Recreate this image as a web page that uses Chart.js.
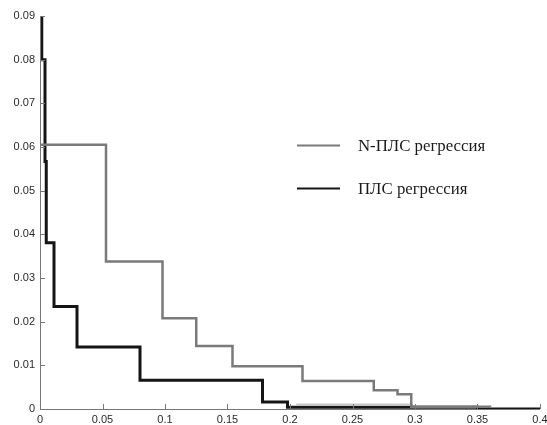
<!DOCTYPE html>
<html>
<head>
<meta charset="utf-8">
<script src="https://cdn.jsdelivr.net/npm/chart.js@4.4.1/dist/chart.umd.min.js"></script>
<style>
html,body{margin:0;padding:0;background:#fff;}
#wrap{width:547px;height:425px;position:relative;}
</style>
</head>
<body>
<div id="wrap"><canvas id="c" width="547" height="425"></canvas></div>
<script>
// ---- data ----
const seriesLabels = ['N-ПЛС регрессия', 'ПЛС регрессия'];
const nplsX = [0, 0.0528, 0.098, 0.125, 0.154, 0.21, 0.267, 0.286, 0.297, 0.36];
const nplsY = [0.0605, 0.0338, 0.0208, 0.0144, 0.0098, 0.0064, 0.0043, 0.0034, 0.0005, 0.0003];
const plsX = [0, 0.0014, 0.004, 0.005, 0.0112, 0.0296, 0.08, 0.178, 0.198, 0.35, 0.4];
const plsY = [0.09, 0.08, 0.0567, 0.0381, 0.0235, 0.0142, 0.0066, 0.0016, 0.0004, 0, 0];
const tailX = [0.205, 0.286, 0.298];
const tailY = [0.0011, 0.0011, 0.0003];
const xTicks = [0, 0.05, 0.1, 0.15, 0.2, 0.25, 0.3, 0.35, 0.4];
const xTickLabels = ['0', '0.05', '0.1', '0.15', '0.2', '0.25', '0.3', '0.35', '0.4'];
const yTicks = [0, 0.01, 0.02, 0.03, 0.04, 0.05, 0.06, 0.07, 0.08, 0.09];
const yTickLabels = ['0', '0.01', '0.02', '0.03', '0.04', '0.05', '0.06', '0.07', '0.08', '0.09'];

// each value holds from its x up to the next x
const toSteps = (xs, ys) => {
  const pts = [];
  xs.forEach((x, i) => {
    pts.push({x: x, y: ys[i]});
    if (i + 1 < xs.length) pts.push({x: xs[i + 1], y: ys[i]});
  });
  return pts;
};

const inwardTicks = {
  id: 'inwardTicks',
  afterDatasetsDraw(chart) {
    const ctx = chart.ctx;
    const xs = chart.scales.x, ys = chart.scales.y;
    ctx.save();
    ctx.strokeStyle = '#777';
    ctx.lineWidth = 1;
    ctx.beginPath();
    ctx.moveTo(xs.left + 0.5, ys.top);
    ctx.lineTo(xs.left + 0.5, ys.bottom + 0.5);
    ctx.lineTo(xs.right, ys.bottom + 0.5);
    xTicks.forEach(v => {
      const px = Math.round(xs.getPixelForValue(v)) + 0.5;
      ctx.moveTo(px, ys.bottom);
      ctx.lineTo(px, ys.bottom - 5);
    });
    yTicks.forEach(v => {
      const py = Math.round(ys.getPixelForValue(v)) + 0.5;
      ctx.moveTo(xs.left, py);
      ctx.lineTo(xs.left + 5, py);
    });
    ctx.stroke();
    ctx.restore();
  }
};

const customLegend = {
  id: 'customLegend',
  afterDraw(chart, args, opts) {
    const ctx = chart.ctx;
    ctx.save();
    ctx.font = opts.font;
    ctx.textBaseline = 'alphabetic';
    opts.items.forEach((it) => {
      const ds = chart.data.datasets[it.dataset];
      ctx.strokeStyle = ds.borderColor;
      ctx.lineWidth = 2;
      ctx.beginPath();
      ctx.moveTo(opts.lineX0, it.y);
      ctx.lineTo(opts.lineX1, it.y);
      ctx.stroke();
      ctx.fillStyle = '#1a1a1a';
      ctx.fillText(ds.label, opts.textX, it.y + 5);
    });
    ctx.restore();
  }
};

new Chart(document.getElementById('c'), {
  type: 'line',
  data: {
    datasets: [
      {label: seriesLabels[0], data: toSteps(nplsX, nplsY), borderColor: '#7a7a7a', borderWidth: 2.5, pointRadius: 0, fill: false, tension: 0},
      {label: seriesLabels[1], data: toSteps(plsX, plsY), borderColor: '#151515', borderWidth: 3, pointRadius: 0, fill: false, tension: 0},
      {label: '', data: toSteps(tailX, tailY), borderColor: '#aaaaaa', borderWidth: 1, pointRadius: 0, fill: false, tension: 0}
    ]
  },
  options: {
    responsive: false,
    animation: false,
    layout: {padding: {left: 0, right: 7, top: 16, bottom: 0}},
    plugins: {
      legend: {display: false},
      tooltip: {enabled: false},
      customLegend: {
        font: '16.8px "Liberation Serif"',
        lineX0: 297, lineX1: 340, textX: 358,
        items: [{dataset: 0, y: 145.5}, {dataset: 1, y: 188.5}]
      }
    },
    scales: {
      x: {
        type: 'linear', min: 0, max: 0.4,
        afterBuildTicks: s => { s.ticks = xTicks.map(v => ({value: v})); },
        afterFit: s => { s.height = 16; s.paddingLeft = 0; s.paddingRight = 0; },
        ticks: {
          callback: (v) => xTickLabels[xTicks.indexOf(v)] ?? '',
          color: '#2a2a2a', font: {family: '"Liberation Sans", Arial', size: 11}, padding: 4, maxRotation: 0
        },
        grid: {display: false, drawTicks: false},
        border: {display: false}
      },
      y: {
        type: 'linear', min: 0, max: 0.09,
        afterBuildTicks: s => { s.ticks = yTicks.map(v => ({value: v})); },
        afterFit: s => { s.width = 40; s.paddingTop = 0; s.paddingBottom = 0; },
        ticks: {
          callback: (v) => yTickLabels[yTicks.indexOf(v)] ?? '',
          color: '#2a2a2a', font: {family: '"Liberation Sans", Arial', size: 11}, padding: 5
        },
        grid: {display: false, drawTicks: false},
        border: {display: false}
      }
    }
  },
  plugins: [inwardTicks, customLegend]
});
</script>
</body>
</html>
